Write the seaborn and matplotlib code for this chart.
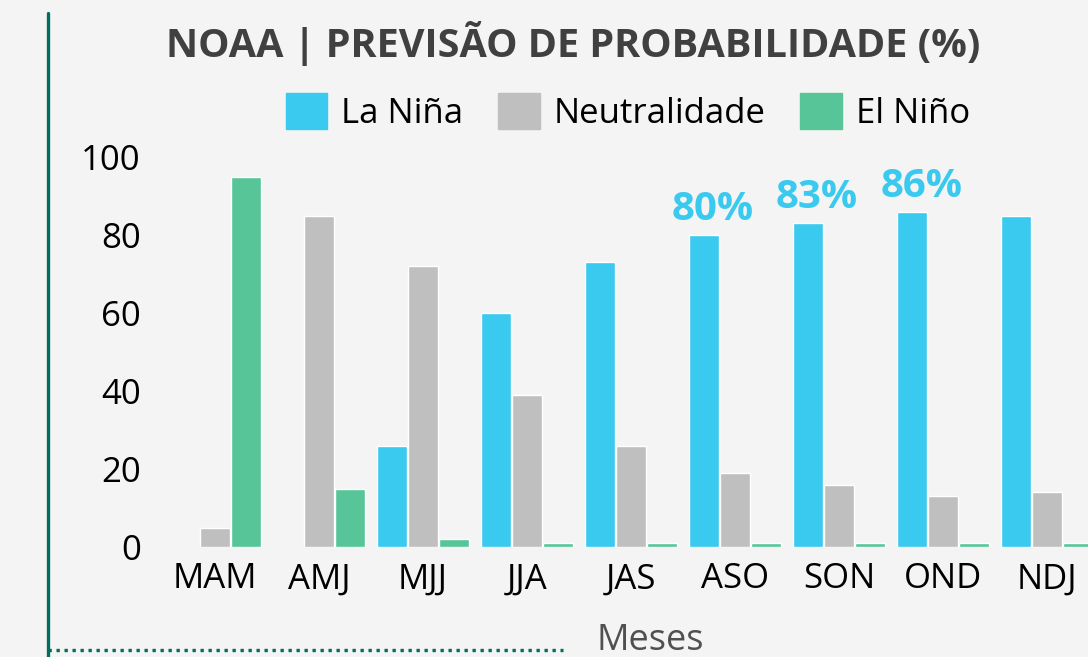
import pandas as pd
import matplotlib.pyplot as plt
import seaborn as sns
from matplotlib.lines import Line2D

meses = ["MAM", "AMJ", "MJJ", "JJA", "JAS", "ASO", "SON", "OND", "NDJ"]
la_nina = [0, 0, 26, 60, 73, 80, 83, 86, 85]
neutralidade = [5, 85, 72, 39, 26, 19, 16, 13, 14]
el_nino = [95, 15, 2, 1, 1, 1, 1, 1, 1]
series = ["La Niña", "Neutralidade", "El Niño"]
cores = ["#3ac9ef", "#bfbfbf", "#57c598"]
destaques = {"ASO": "80%", "SON": "83%", "OND": "86%"}

df = pd.DataFrame({"Meses": meses * 3,
                   "valor": la_nina + neutralidade + el_nino,
                   "serie": [s for s in series for _ in meses]})

sns.set_style("white")
plt.rcParams["font.family"] = ["Open Sans", "DejaVu Sans"]
bg = "#f4f4f4"

fig = plt.figure(figsize=(10.88, 6.57), dpi=100, facecolor=bg)
ax = fig.add_axes([163/1088, 110/657, 936/1088, 390/657], facecolor=bg)

sns.barplot(data=df, x="Meses", y="valor", hue="serie", palette=cores,
            width=0.9, gap=0.03, ax=ax, legend=True, saturation=1)

ax.set_xlim(-0.5, 8.5)
ax.set_ylim(0, 100)
ax.set_yticks([0, 20, 40, 60, 80, 100])
ax.tick_params(axis="y", labelsize=25, length=0, pad=16, labelcolor="black")
ax.tick_params(axis="x", labelsize=25, length=0, pad=11, labelcolor="black")
ax.set_ylabel("")
ax.set_xlabel("")
for s in ax.spines.values():
    s.set_visible(False)

# rótulos de destaque
w = 0.9 / 3
for i, m in enumerate(meses):
    if m in destaques:
        ax.text(i - w + 0.09, la_nina[i] + 1.5, destaques[m], ha="center", va="bottom",
                fontsize=29, fontweight="bold", color=cores[0])

ax.get_legend().remove()
handles = [plt.Rectangle((0, 0), 1, 1, color=c) for c in cores]
fig.legend(handles, series, loc="center", bbox_to_anchor=(628/1088, 1 - 112/657),
           ncol=3, frameon=False, fontsize=25, handlelength=1.2, handleheight=1.2,
           handletextpad=0.4, columnspacing=1.0, labelcolor="black")

fig.text(573/1088, 1 - 44/657, "NOAA | PREVISÃO DE PROBABILIDADE (%)", ha="center",
         va="center", fontsize=28.5, fontweight="bold", color="#404040")
fig.text(650/1088, 1 - 641/657, "Meses", ha="center", va="center", fontsize=26,
         color="#505050")

fig.add_artist(Line2D([48/1088, 48/1088], [0, 1 - 13/657], color="#006e5f", lw=2.4))
fig.add_artist(Line2D([48/1088, 563/1088], [7/657, 7/657], color="#006e5f", lw=2.4,
                      linestyle=(0, (1, 1.4))))

fig.savefig("out.png", dpi=100, facecolor=bg)
